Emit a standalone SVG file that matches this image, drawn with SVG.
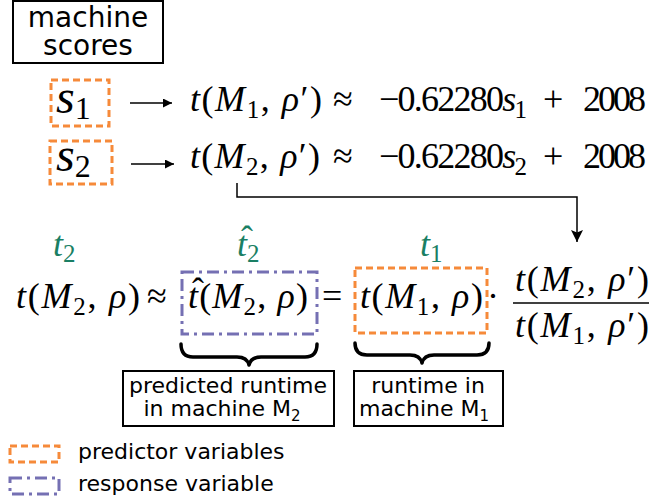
<svg xmlns="http://www.w3.org/2000/svg" width="652" height="502" viewBox="0 0 652 502">
<defs>
<marker id="ah" viewBox="0 0 10 10" refX="10" refY="5" markerWidth="10" markerHeight="9" markerUnits="userSpaceOnUse" orient="auto"><path d="M0,0 L10,5 L0,10 Z" fill="#000"/></marker>
<marker id="ah2" viewBox="0 0 10 10" refX="10" refY="5" markerWidth="14" markerHeight="12" markerUnits="userSpaceOnUse" orient="auto"><path d="M0,0 L10,5 L0,10 L2,5 Z" fill="#000"/></marker>
</defs>
<style>
.sans{font-family:"DejaVu Sans",sans-serif;fill:#000}
.m{font-family:"Liberation Serif",serif;font-size:36px;fill:#000}
.i{font-style:italic}
.sub{font-size:25px}
.g{fill:#1a7f64}
.pred{fill:none;stroke:#f68a3a;stroke-width:3;stroke-dasharray:7 4}
.resp{fill:none;stroke:#7570b3;stroke-width:3;stroke-dasharray:12 5 3 5}
.box{fill:#fff;stroke:#000;stroke-width:2}
.brace{fill:none;stroke:#000;stroke-width:3.5;stroke-linejoin:round;stroke-linecap:round}
.ln{fill:none;stroke:#000;stroke-width:1.5}
</style>
<rect width="652" height="502" fill="#fff"/>

<g id="machine-scores">
<rect class="box" x="13" y="1" width="150" height="62"/>
<text class="sans" x="88" y="27" font-size="28" text-anchor="middle">machine</text>
<text class="sans" x="88" y="55" font-size="28" text-anchor="middle">scores</text>
</g>

<g id="s1">
<rect class="pred" x="51" y="80" width="58" height="46"/>
<text class="m" x="56" y="113" style="font-size:48px"><tspan class="i">s</tspan><tspan style="font-size:32px" dy="6">1</tspan></text>
</g>
<g id="s2">
<rect class="pred" x="50" y="141" width="62" height="43"/>
<text class="m" x="56" y="171" style="font-size:48px"><tspan class="i">s</tspan><tspan style="font-size:32px" dy="6">2</tspan></text>
</g>

<g id="eq1">
<text class="m" x="190" y="111" textLength="132" lengthAdjust="spacing"><tspan class="i">t</tspan>(<tspan class="i">M</tspan><tspan class="sub" dy="7">1</tspan><tspan dy="-7">, </tspan><tspan class="i">ρ</tspan>′)</text>
<text class="m" x="333" y="111">≈</text>
<text class="m" x="379" y="111" textLength="148" lengthAdjust="spacing">−0.62280<tspan class="i">s</tspan><tspan class="sub" dy="7">1</tspan></text>
<text class="m" x="543" y="111">+</text>
<text class="m" x="583" y="111" textLength="63" lengthAdjust="spacing">2008</text>
</g>
<g id="eq2">
<text class="m" x="190" y="168" textLength="130" lengthAdjust="spacing"><tspan class="i">t</tspan>(<tspan class="i">M</tspan><tspan class="sub" dy="7">2</tspan><tspan dy="-7">, </tspan><tspan class="i">ρ</tspan>′)</text>
<text class="m" x="333" y="168">≈</text>
<text class="m" x="379" y="168" textLength="148" lengthAdjust="spacing">−0.62280<tspan class="i">s</tspan><tspan class="sub" dy="7">2</tspan></text>
<text class="m" x="543" y="168">+</text>
<text class="m" x="583" y="168" textLength="63" lengthAdjust="spacing">2008</text>
</g>

<g id="labels-green">
<text class="m g" x="53" y="256"><tspan class="i">t</tspan><tspan class="sub" dy="6">2</tspan></text>
<text class="m g" x="237" y="256"><tspan class="i">t</tspan><tspan class="sub" dy="6">2</tspan></text>
<text class="m g" x="241" y="251">ˆ</text>
<text class="m g" x="420" y="256"><tspan class="i">t</tspan><tspan class="sub" dy="6">1</tspan></text>
</g>

<g id="main-eq">
<text class="m" x="16" y="308" textLength="124" lengthAdjust="spacing"><tspan class="i">t</tspan>(<tspan class="i">M</tspan><tspan class="sub" dy="7">2</tspan><tspan dy="-7">, </tspan><tspan class="i">ρ</tspan>)</text>
<text class="m" x="147" y="308">≈</text>
</g>

<g id="response">
<rect class="resp" x="182" y="272" width="135" height="62"/>
<text class="m" x="188" y="308" textLength="120" lengthAdjust="spacing"><tspan class="i">t</tspan>(<tspan class="i">M</tspan><tspan class="sub" dy="7">2</tspan><tspan dy="-7">, </tspan><tspan class="i">ρ</tspan>)</text>
<text class="m" x="192" y="303">ˆ</text>
</g>

<text class="m" x="322" y="308">=</text>

<g id="predictor">
<rect class="pred" x="355" y="268" width="132" height="65"/>
<text class="m" x="360" y="308" textLength="123" lengthAdjust="spacing"><tspan class="i">t</tspan>(<tspan class="i">M</tspan><tspan class="sub" dy="7">1</tspan><tspan dy="-7">, </tspan><tspan class="i">ρ</tspan>)</text>
</g>

<g id="fraction">
<text class="m" x="487" y="308">·</text>
<text class="m" x="515" y="291" textLength="134" lengthAdjust="spacing"><tspan class="i">t</tspan>(<tspan class="i">M</tspan><tspan class="sub" dy="7">2</tspan><tspan dy="-7">, </tspan><tspan class="i">ρ</tspan>′)</text>
<line x1="513" y1="303" x2="649" y2="303" stroke="#000" stroke-width="1.5"/>
<text class="m" x="515" y="337" textLength="134" lengthAdjust="spacing"><tspan class="i">t</tspan>(<tspan class="i">M</tspan><tspan class="sub" dy="7">1</tspan><tspan dy="-7">, </tspan><tspan class="i">ρ</tspan>′)</text>
</g>

<g id="brace-predicted">
<path class="brace" d="M181,344 Q181,357 193,357 L237,357 Q247,357 249,365 Q251,357 261,357 L305,357 Q317,357 317,344"/>
</g>
<g id="brace-runtime">
<path class="brace" d="M355,343 Q355,355 367,355 L410,355 Q420,355 422,363 Q424,355 434,355 L477,355 Q489,355 489,343"/>
</g>

<g id="label-predicted">
<rect class="box" x="123" y="371" width="211" height="55"/>
<text class="sans" x="228" y="393" font-size="22" text-anchor="middle">predicted runtime</text>
<text class="sans" x="222" y="416" font-size="22" text-anchor="middle">in machine M<tspan font-size="15" dy="5">2</tspan></text>
</g>
<g id="label-runtime">
<rect class="box" x="354" y="371" width="149" height="55"/>
<text class="sans" x="428" y="393" font-size="22" text-anchor="middle">runtime in</text>
<text class="sans" x="424" y="416" font-size="22" text-anchor="middle">machine M<tspan font-size="15" dy="5">1</tspan></text>
</g>

<g id="legend">
<rect class="pred" x="10" y="446" width="49" height="16"/>
<text class="sans" x="78" y="459" font-size="22">predictor variables</text>
<rect class="resp" x="10" y="478" width="49" height="16"/>
<text class="sans" x="78" y="491" font-size="22">response variable</text>
</g>

<g id="connectors">
<line class="ln" x1="130" y1="103" x2="172" y2="103" marker-end="url(#ah)"/>
<line class="ln" x1="131" y1="164" x2="174" y2="164" marker-end="url(#ah)"/>
<path class="ln" d="M237,183 L237,197 L577,197 L577,242" marker-end="url(#ah2)"/>
</g>
</svg>
